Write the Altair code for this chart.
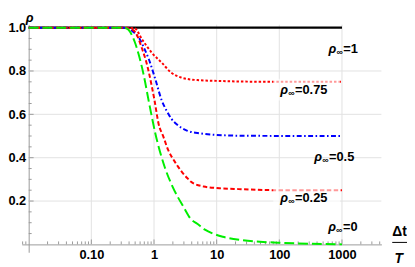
import altair as alt
import pandas as pd

# ---- data ----
x_black = [0.01, 1000]
y_black = [1.0, 1.0]

x_r75 = [0.01, 0.3, 0.49, 0.65, 0.93, 1.33, 1.89, 2.7, 4.9, 11, 30, 100, 1000]
y_r75 = [1.0, 1.0, 0.997, 0.944, 0.883, 0.838, 0.792, 0.77, 0.758, 0.754, 0.751, 0.75, 0.75]

x_b50 = [0.01, 0.3, 0.38, 0.46, 0.58, 0.695, 0.83, 1.05, 1.33, 1.58, 1.89, 2.4, 3.42, 5.5, 9.9, 30, 1000]
y_b50 = [1.0, 1.0, 0.997, 0.982, 0.951, 0.906, 0.853, 0.762, 0.664, 0.618, 0.58, 0.55, 0.524, 0.512, 0.505, 0.501, 0.5]

x_r25 = [0.01, 0.3, 0.46, 0.547, 0.653, 0.734, 0.83, 0.93, 1.02, 1.18, 1.41, 1.68, 2.13, 2.86, 3.42, 3.85, 6.2, 11.1, 22.6, 100, 1000]
y_r25 = [1.0, 1.0, 0.99, 0.959, 0.898, 0.853, 0.792, 0.724, 0.664, 0.558, 0.497, 0.436, 0.383, 0.33, 0.305, 0.29, 0.267, 0.259, 0.255, 0.25, 0.25]

x_g0 = [0.01, 0.3, 0.36, 0.49, 0.58, 0.69, 0.83, 1.05, 1.49, 2.01, 3.0, 3.85, 4.9, 6.5, 8.7, 12.5, 25, 49, 94, 300, 1000]
y_g0 = [1.0, 1.0, 0.997, 0.936, 0.868, 0.777, 0.656, 0.512, 0.355, 0.262, 0.17, 0.118, 0.095, 0.068, 0.05, 0.035, 0.02, 0.012, 0.008, 0.003, 0.0]

label_x = [610, 103.5, 361, 103.5, 603]
label_y = [0.883, 0.694, 0.386, 0.197, 0.06]
label_val = ["=1", "=0.75", "=0.5", "=0.25", "=0"]

box_x0 = [80, 80]
box_x1 = [930, 930]
box_y0 = [0.664, 0.164]
box_y1 = [0.764, 0.264]

x_tick_labels = [0.1, 1, 10, 100, 1000]
y_tick_labels = [0.2, 0.4, 0.6, 0.8, 1.0]
x_minor = [0.008, 0.009] + [m * 10.0 ** e for e in (-2, -1, 0, 1, 2) for m in range(2, 10)] + [2000, 3000, 4000]
y_minor = [0.05, 0.1, 0.15, 0.25, 0.3, 0.35, 0.45, 0.5, 0.55, 0.65, 0.7, 0.75, 0.85, 0.9, 0.95]

# ---- geometry ----
W, H = 365, 231
DEC = 63.6
xmin = 10 ** (-2 - 7 / DEC)
xmax = 10 ** (-2 + 358 / DEC)
ymin = -8 / 220
ymax = 1 + 3 / 220

FONT = "Liberation Sans"
GRAY = "#9a9a9a"
GRID = "#e2e2e2"

xscale = alt.Scale(type="log", domain=[xmin, xmax], nice=False)
yscale = alt.Scale(domain=[ymin, ymax], nice=False, zero=False)

xaxis = alt.Axis(values=x_tick_labels,
                 labelExpr="datum.value < 0.5 ? '0.10' : format(datum.value, 'd')",
                 offset=-8, grid=False, ticks=False, domainColor=GRAY, domainWidth=1,
                 labelFont=FONT, labelFontWeight="bold", labelFontSize=13, labelColor="black",
                 labelPadding=4, title=None, labelFlush=False, labelOverlap=False)
yaxis = alt.Axis(values=y_tick_labels, format=".1f", offset=-7, grid=False, ticks=False,
                 domainColor=GRAY, domainWidth=1,
                 labelFont=FONT, labelFontWeight="bold", labelFontSize=13, labelColor="black",
                 labelPadding=3, title=None, labelFlush=False, labelOverlap=False)


def X(field=None, datum=None):
    if datum is not None:
        return alt.X(datum=datum, scale=xscale, axis=xaxis)
    return alt.X(field, type="quantitative", scale=xscale, axis=xaxis)


def Y(field=None, datum=None):
    if datum is not None:
        return alt.Y(datum=datum, scale=yscale, axis=yaxis)
    return alt.Y(field, type="quantitative", scale=yscale, axis=yaxis)


layers = []

# grid lines
gx = pd.DataFrame({"v": x_tick_labels})
gy = pd.DataFrame({"v": y_tick_labels[:-1]})
layers.append(alt.Chart(gx).mark_rule(color=GRID, strokeWidth=1).encode(
    x=X("v"), y=Y(datum=0), y2=alt.value(0)))
layers.append(alt.Chart(gy).mark_rule(color=GRID, strokeWidth=1).encode(
    y=Y("v"), x=X(datum=0.01), x2=alt.value(W)))

# ticks
layers.append(alt.Chart(pd.DataFrame({"v": x_minor})).mark_rule(color=GRAY, y2Offset=-3).encode(
    x=X("v"), y=Y(datum=0), y2=alt.Y2(datum=0)))
layers.append(alt.Chart(gx).mark_rule(color=GRAY, y2Offset=-5).encode(
    x=X("v"), y=Y(datum=0), y2=alt.Y2(datum=0)))
layers.append(alt.Chart(pd.DataFrame({"v": y_minor})).mark_rule(color=GRAY, x2Offset=3).encode(
    y=Y("v"), x=X(datum=0.01), x2=alt.X2(datum=0.01)))
layers.append(alt.Chart(pd.DataFrame({"v": y_tick_labels})).mark_rule(color=GRAY, x2Offset=5).encode(
    y=Y("v"), x=X(datum=0.01), x2=alt.X2(datum=0.01)))

# curves
series = [
    (x_black, y_black, "#000000", [1, 0], 2.4),
    (x_r75, y_r75, "#ff0000", [2.5, 2], 2.0),
    (x_b50, y_b50, "#0000ff", [5, 2.5, 1.6, 2.5], 2.0),
    (x_r25, y_r25, "#ff0000", [4.5, 2.5], 2.0),
    (x_g0, y_g0, "#00ee00", [10, 4], 2.0),
]
for xs, ys, col, dash, sw in series:
    df = pd.DataFrame({"x": xs, "y": ys})
    layers.append(alt.Chart(df).mark_line(color=col, strokeDash=dash, strokeWidth=sw,
                                          interpolate="monotone", clip=True).encode(
        x=X("x"), y=Y("y")))

# label backgrounds
bdf = pd.DataFrame({"x0": box_x0, "x1": box_x1, "y0": box_y0, "y1": box_y1})
layers.append(alt.Chart(bdf).mark_rect(color="white", opacity=0.6).encode(
    x=X("x0"), x2="x1", y=Y("y0"), y2="y1"))

# labels
ldf = pd.DataFrame({"x": label_x, "y": label_y, "val": label_val})
layers.append(alt.Chart(ldf).mark_text(text="ρ", font=FONT, fontSize=13, fontWeight="bold",
                                       fontStyle="italic", align="left", baseline="alphabetic",
                                       color="black").encode(x=X("x"), y=Y("y")))
layers.append(alt.Chart(ldf).mark_text(text="∞", font=FONT, fontSize=9, fontWeight="bold",
                                       align="left", baseline="alphabetic", dx=8, dy=2,
                                       color="black").encode(x=X("x"), y=Y("y")))
layers.append(alt.Chart(ldf).mark_text(font=FONT, fontSize=13, fontWeight="bold",
                                       align="left", baseline="alphabetic", dx=15,
                                       color="black").encode(x=X("x"), y=Y("y"), text="val:N"))

# axis titles
layers.append(alt.Chart(pd.DataFrame({"t": ["ρ"]})).mark_text(
    font=FONT, fontSize=13, fontWeight="bold", fontStyle="italic", align="center",
    baseline="alphabetic", color="black").encode(x=alt.value(8), y=alt.value(-3), text="t:N"))
layers.append(alt.Chart(pd.DataFrame({"t": ["Δt"]})).mark_text(
    font=FONT, fontSize=14, fontWeight="bold", align="center",
    baseline="alphabetic", color="black").encode(x=alt.value(383.5), y=alt.value(214.5), text="t:N"))
layers.append(alt.Chart(pd.DataFrame({"t": ["T"]})).mark_text(
    font=FONT, fontSize=14, fontWeight="bold", fontStyle="italic", align="center",
    baseline="alphabetic", color="black").encode(x=alt.value(382.5), y=alt.value(242), text="t:N"))
layers.append(alt.Chart(pd.DataFrame({"t": [0]})).mark_rule(color="black", strokeWidth=1).encode(
    x=alt.value(376), x2=alt.value(391), y=alt.value(221)))

chart = alt.layer(*layers).properties(
    width=W, height=H,
    padding={"left": 14, "top": 15, "right": 26, "bottom": 12},
    autosize=alt.AutoSizeParams(type="none"),
    background="white",
).configure_view(stroke=None)

chart.save("out.html", embed_options={"renderer": "svg", "actions": False})
